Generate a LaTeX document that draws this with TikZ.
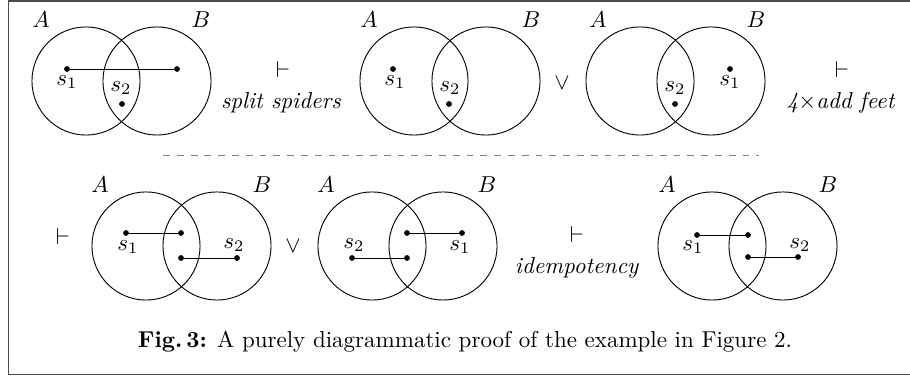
\documentclass[tikz,border=0pt]{standalone}
\usepackage{amsmath,amssymb}
\usetikzlibrary{positioning}
\tikzset{
  venn/.style={circle,draw=black,thin,inner sep=0pt,minimum size=47pt},
  spot/.style={circle,fill=black,inner sep=0pt,minimum size=2.5pt},
  spotlbl/.style={inner sep=0pt,font=\normalsize},
  setlbl/.style={inner sep=0pt,font=\normalsize},
  leg/.style={thin,black},
  rulelbl/.style={inner sep=0pt,align=center},
  sep/.style={dashed,gray,thin},
  frame/.style={gray!60!black,line width=0.6pt}
}
\begin{document}
\begin{tikzpicture}[x=0.4348pt,y=-0.4348pt]
  \useasboundingbox (0,0) rectangle (910,376);
  \draw[frame] (910,1) -- (8.5,1) -- (8.5,374.5) -- (910,374.5);

  % first row
  \node[venn] (a1) at (86,81) {};
  \node[venn] (b1) at (157,81) {};
  \node[setlbl] (la1) at (41,20) {$A$};
  \node[setlbl] (lb1) at (201,20) {$B$};
  \node[spot] (p1) at (67,69) {};
  \node[spot] (q1) at (177,69) {};
  \node[spot] (r1) at (122,104) {};
  \node[spotlbl] (s11) at (67,82) {$s_1$};
  \node[spotlbl] (s21) at (121,88) {$s_2$};
  \draw[leg] (p1) -- (q1);

  \node[rulelbl] (t1) at (283,70) {$\vdash$};
  \node[rulelbl] (n1) at (281,103) {\textit{split spiders}};

  \node[venn] (a2) at (414,81) {};
  \node[venn] (b2) at (486,81) {};
  \node[setlbl] (la2) at (369,20) {$A$};
  \node[setlbl] (lb2) at (531,20) {$B$};
  \node[spot] (p2) at (393,69) {};
  \node[spot] (r2) at (449,104) {};
  \node[spotlbl] (s12) at (395,82) {$s_1$};
  \node[spotlbl] (s22) at (450,88) {$s_2$};

  \node[rulelbl] (o1) at (562,83) {$\vee$};

  \node[venn] (a3) at (640,81) {};
  \node[venn] (b3) at (711,81) {};
  \node[setlbl] (la3) at (598,20) {$A$};
  \node[setlbl] (lb3) at (756,20) {$B$};
  \node[spot] (p3) at (730,69) {};
  \node[spot] (r3) at (675,104) {};
  \node[spotlbl] (s13) at (730,82) {$s_1$};
  \node[spotlbl] (s23) at (675,88) {$s_2$};

  \node[rulelbl] (t2) at (842,70) {$\vdash$};
  \node[rulelbl] (n2) at (841,103) {\textit{4$\times$add feet}};

  \draw[sep] (163,155) -- (759,155);

  % second row
  \node[rulelbl] (t3) at (63,237) {$\vdash$};

  \node[venn] (a4) at (146,246) {};
  \node[venn] (b4) at (217,246) {};
  \node[setlbl] (la4) at (100,185) {$A$};
  \node[setlbl] (lb4) at (262,185) {$B$};
  \node[spot] (p4) at (126,233) {};
  \node[spot] (q4) at (181,233) {};
  \node[spot] (u4) at (181,258) {};
  \node[spot] (v4) at (237,258) {};
  \node[spotlbl] (s14) at (128,247) {$s_1$};
  \node[spotlbl] (s24) at (234,245) {$s_2$};
  \draw[leg] (p4) -- (q4);
  \draw[leg] (u4) -- (v4);

  \node[rulelbl] (o2) at (293,246) {$\vee$};

  \node[venn] (a5) at (372,246) {};
  \node[venn] (b5) at (443,246) {};
  \node[setlbl] (la5) at (326,185) {$A$};
  \node[setlbl] (lb5) at (487,185) {$B$};
  \node[spot] (p5) at (462,233) {};
  \node[spot] (q5) at (407,233) {};
  \node[spot] (u5) at (407,258) {};
  \node[spot] (v5) at (352,258) {};
  \node[spotlbl] (s15) at (460,247) {$s_1$};
  \node[spotlbl] (s25) at (354,245) {$s_2$};
  \draw[leg] (q5) -- (p5);
  \draw[leg] (v5) -- (u5);

  \node[rulelbl] (t4) at (577,235) {$\vdash$};
  \node[rulelbl] (n3) at (577,268) {\textit{idempotency}};

  \node[venn] (a6) at (712,246) {};
  \node[venn] (b6) at (783,246) {};
  \node[setlbl] (la6) at (667,185) {$A$};
  \node[setlbl] (lb6) at (828,185) {$B$};
  \node[spot] (p6) at (697,235) {};
  \node[spot] (q6) at (748,235) {};
  \node[spot] (u6) at (748,257) {};
  \node[spot] (v6) at (798,257) {};
  \node[spotlbl] (s16) at (693,247) {$s_1$};
  \node[spotlbl] (s26) at (800,245) {$s_2$};
  \draw[leg] (p6) -- (q6);
  \draw[leg] (u6) -- (v6);

  % caption
  \node[inner sep=0pt] (cap) at (465,342)
      {\textbf{Fig.\,3:} A purely diagrammatic proof of the example in Figure 2.};
\end{tikzpicture}
\end{document}
